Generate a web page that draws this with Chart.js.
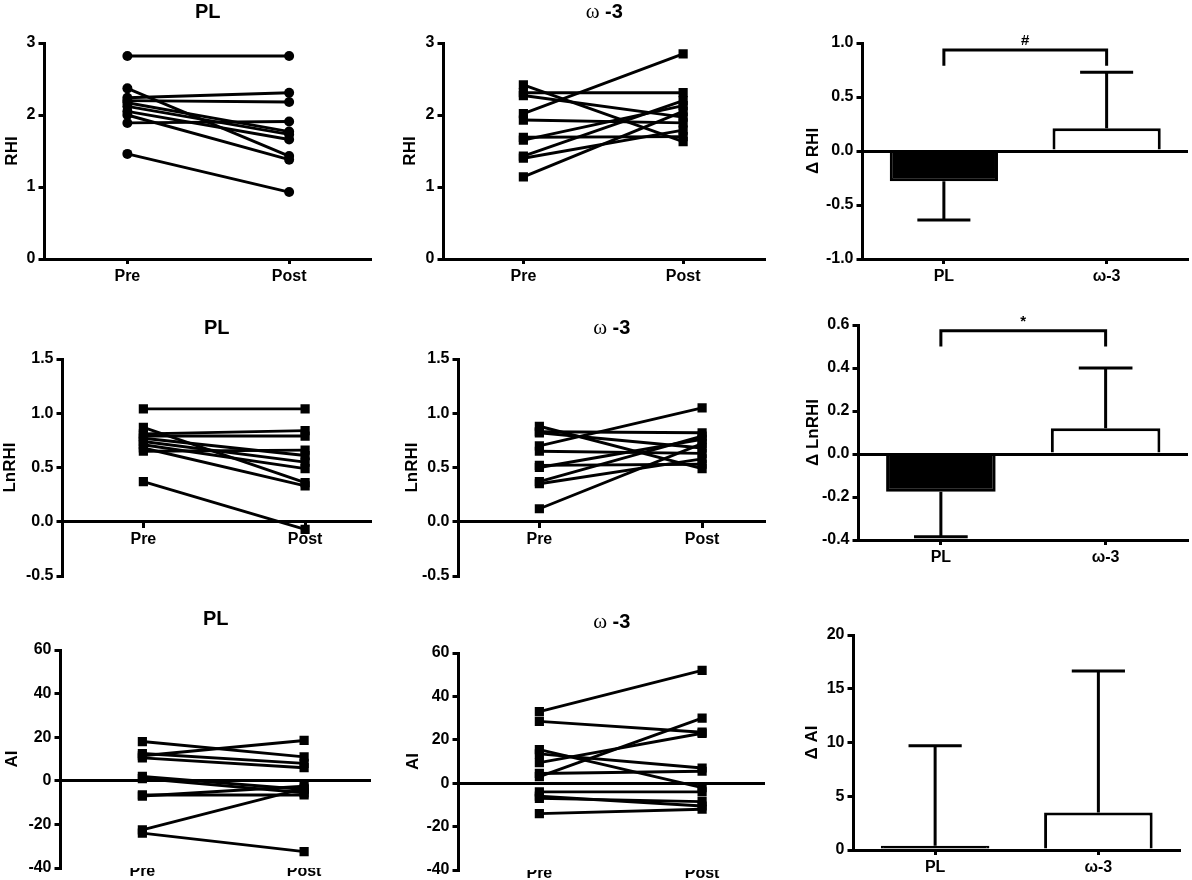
<!DOCTYPE html>
<html><head><meta charset="utf-8">
<script src="https://cdn.jsdelivr.net/npm/chart.js@4.4.1/dist/chart.umd.min.js"></script>
<style>
html,body{margin:0;padding:0;background:#fff;}
body{width:1192px;height:880px;overflow:hidden;position:relative;}
.p{position:absolute;}
</style></head><body>
<script>
// ---------- data ----------
const timepoints = ['Pre', 'Post'];
const groups = ['PL', 'ω-3'];

const rhiPLPre   = [2.82, 2.37, 2.24, 2.20, 2.17, 2.12, 2.05, 2.00, 1.89, 1.46];
const rhiPLPost  = [2.82, 1.43, 2.31, 2.18, 1.77, 1.73, 1.66, 1.38, 1.91, 0.93];
const rhiW3Pre   = [2.02, 2.31, 2.42, 2.27, 1.93, 1.69, 1.65, 1.43, 1.40, 1.14];
const rhiW3Post  = [2.85, 2.31, 1.63, 1.97, 1.89, 1.70, 2.13, 2.20, 1.79, 2.05];

const lnPLPre    = [1.04, 0.87, 0.81, 0.79, 0.77, 0.74, 0.71, 0.68, 0.65, 0.37];
const lnPLPost   = [1.04, 0.36, 0.84, 0.79, 0.61, 0.55, 0.49, 0.33, 0.66, -0.07];
const lnW3Pre    = [0.70, 0.83, 0.88, 0.82, 0.65, 0.52, 0.50, 0.37, 0.35, 0.12];
const lnW3Post   = [1.05, 0.82, 0.49, 0.68, 0.63, 0.53, 0.76, 0.79, 0.58, 0.72];

const aiPLPre    = [18, 11.5, 12.5, 10.5, 2, 1, -6.5, -7, -22.5, -24];
const aiPLPost   = [11, 18.5, 8, 6, -4, -5.5, -6.5, -2.5, -3.5, -32.5];
const aiW3Pre    = [33, 28.5, 15.5, 13.5, 9.5, 3, 4.5, -4, -7, -6, -14];
const aiW3Post   = [52, 23.5, -2, 7, 23, 30, 5.5, -4, -8.5, -10.5, -12];

const dRhiMean   = [-0.28, 0.21];
const dRhiErr    = [0.36, 0.52];
const dLnMean    = [-0.175, 0.12];
const dLnErr     = [0.21, 0.28];
const dAiMean    = [0.4, 3.5];
const dAiErr     = [9.3, 13.15];

const bracketRhi = [0.79, 0.935];
const bracketLn  = [0.50, 0.573];

const ticksRHI = [0, 3, 1];
const ticksLn  = [-0.5, 1.5, 0.5];
const ticksAI  = [-40, 60, 20];
const ticksDRhi = [-1.0, 1.0, 0.5];
const ticksDLn  = [-0.4, 0.6, 0.2];
const ticksDAi  = [0, 20, 5];

// ---------- style / layout ----------
Chart.defaults.font.family = '"Liberation Sans", Arial, sans-serif';
Chart.defaults.font.weight = 'bold';
Chart.defaults.color = '#000';
const SANS = '"Liberation Sans", Arial, sans-serif';
const SERIF = '"Liberation Serif", "Times New Roman", serif';
const TP = 46, PR = 4;

const titlePL = [{t: 'PL', f: 'bold 20px ' + SANS}];
const titleW3 = [{t: 'ω', f: '21px ' + SERIF}, {t: ' -3', f: 'bold 20px ' + SANS}];

const decor = {
  id: 'decor',
  afterDraw(chart, args, o) {
    const ctx = chart.ctx, ca = chart.chartArea;
    ctx.save();
    if (o.title) {
      let w = 0;
      o.title.forEach(p => { ctx.font = p.f; w += ctx.measureText(p.t).width; });
      let x = (ca.left + ca.right) / 2 - w / 2;
      const y = ca.top - 31;
      ctx.textBaseline = 'middle'; ctx.textAlign = 'left'; ctx.fillStyle = '#000';
      o.title.forEach(p => { ctx.font = p.f; ctx.fillText(p.t, x, y); x += ctx.measureText(p.t).width; });
    }
    const ys = chart.scales.y;
    const meta = chart.getDatasetMeta(0);
    ctx.strokeStyle = '#000'; ctx.lineWidth = 3; ctx.lineCap = 'butt';
    if (o.errs) {
      const vals = chart.data.datasets[0].data;
      o.errs.forEach((e, i) => {
        const el = meta.data[i];
        const m = vals[i];
        const end = m + (m >= 0 ? e : -e);
        const y0 = ys.getPixelForValue(m), y1 = ys.getPixelForValue(end);
        const half = el.width * 0.245;
        ctx.beginPath();
        ctx.moveTo(el.x, y0); ctx.lineTo(el.x, y1);
        ctx.moveTo(el.x - half, y1); ctx.lineTo(el.x + half, y1);
        ctx.stroke();
      });
    }
    if (o.bracket) {
      const x0 = meta.data[0].x, x1 = meta.data[1].x;
      const yl = ys.getPixelForValue(o.bracket[0]), yt = ys.getPixelForValue(o.bracket[1]);
      ctx.beginPath();
      ctx.moveTo(x0, yl); ctx.lineTo(x0, yt); ctx.lineTo(x1, yt); ctx.lineTo(x1, yl);
      ctx.stroke();
      ctx.fillStyle = '#000'; ctx.textAlign = 'center'; ctx.textBaseline = 'middle';
      ctx.font = 'bold 15px ' + SANS;
      ctx.fillText(o.sig, (x0 + x1) / 2, yt - 9);
    }
    ctx.restore();
  }
};

function makeBox(p, bottomPad) {
  const left = p.tx - 8.5;
  p._yw = p.L - left;
  const w = p._yw + (p.R - p.L) + PR;
  const h = TP + (p.B - p.T) + bottomPad;
  const div = document.createElement('div');
  div.className = 'p';
  div.style.left = left + 'px'; div.style.top = (p.T - TP) + 'px';
  div.style.width = w + 'px'; div.style.height = h + 'px';
  const cv = document.createElement('canvas');
  cv.width = w; cv.height = h;
  cv.style.width = w + 'px'; cv.style.height = h + 'px';
  div.appendChild(cv);
  document.body.appendChild(div);
  return cv;
}

function yScale(p, zeroLine) {
  return {
    type: 'linear', position: 'left', min: p.yt[0], max: p.yt[1],
    afterFit: s => { s.width = p._yw; },
    ticks: { stepSize: p.yt[2], callback: v => Number(v).toFixed(p.dec), font: {size: 16, weight: 'bold'}, color: '#000', padding: 3 },
    grid: {
      drawOnChartArea: zeroLine,
      color: c => (c.tick && c.tick.value === 0) ? '#000' : 'rgba(0,0,0,0)',
      lineWidth: 3, tickColor: '#000', tickLength: 6, tickWidth: 3, drawTicks: true
    },
    border: { display: true, color: '#000', width: 3 },
    title: { display: true, text: p.ylabel, font: {size: 17, weight: 'bold', lineHeight: 1}, color: '#000', padding: 0 }
  };
}

function pairChart(p) {
  const atZero = p.xAt === 'zero';
  const noLine = p.xAt === 'free';
  const cv = makeBox(p, atZero ? 14 : 34);
  const span = p.post - p.pre;
  const xmin = 1 - (p.pre - p.L) / span;
  const xmax = 2 + (p.R - p.post) / span;
  const datasets = p.preV.map((v, i) => ({
    data: [{x: 1, y: v}, {x: 2, y: p.postV[i]}],
    showLine: true, borderColor: '#000', borderWidth: 2.9,
    pointStyle: p.point, pointRadius: p.point === 'circle' ? 5 : 6.5,
    pointBackgroundColor: '#000', pointBorderColor: '#000', pointBorderWidth: 0
  }));
  new Chart(cv, {
    type: 'scatter',
    data: { datasets },
    plugins: [decor],
    options: {
      responsive: false, animation: false, devicePixelRatio: 1,
      layout: { padding: { left: 0, right: PR, top: TP, bottom: atZero ? 14 : 0 }, autoPadding: false },
      plugins: { legend: {display: false}, tooltip: {enabled: false}, decor: { title: p.title } },
      scales: {
        x: {
          type: 'linear', min: xmin, max: xmax,
          position: atZero ? {y: 0} : 'bottom',
          afterBuildTicks: s => { s.ticks = [{value: 1}, {value: 2}]; },
          afterFit: s => { s.height = atZero ? 0 : 34; },
          ticks: { callback: v => timepoints[v - 1], font: {size: 16, weight: 'bold'}, color: '#000', padding: noLine ? -6 : 3, autoSkip: false, maxRotation: 0 },
          grid: { display: !noLine, drawOnChartArea: false, drawTicks: !noLine, tickLength: 5, tickWidth: 3, tickColor: '#000', color: '#000' },
          border: { display: !noLine, color: '#000', width: 3 }
        },
        y: yScale(p, p.xAt === 'free')
      }
    }
  });
}

function barChart(p) {
  const cv = makeBox(p, 34);
  new Chart(cv, {
    type: 'bar',
    data: { labels: groups, datasets: [{
      data: p.means, backgroundColor: ['#000', '#fff'], borderColor: '#000', borderWidth: 3,
      barPercentage: 0.665, categoryPercentage: 1
    }]},
    plugins: [decor],
    options: {
      responsive: false, animation: false, devicePixelRatio: 1,
      layout: { padding: { left: 0, right: PR, top: TP, bottom: 0 }, autoPadding: false },
      plugins: { legend: {display: false}, tooltip: {enabled: false}, decor: { errs: p.errs, bracket: p.bracket, sig: p.sig } },
      scales: {
        x: {
          type: 'category', offset: true,
          afterFit: s => { s.height = 34; },
          ticks: { font: {size: 16, weight: 'bold'}, color: '#000', padding: 3, maxRotation: 0 },
          grid: { offset: false, drawOnChartArea: false, tickLength: 5, tickWidth: 3, tickColor: '#000', color: '#000' },
          border: { display: true, color: '#000', width: 3 }
        },
        y: yScale(p, p.yt[0] < 0)
      }
    }
  });
}

pairChart({L: 44, R: 371, T: 43, B: 259, tx: 12, pre: 127, post: 289, yt: ticksRHI, dec: 0, ylabel: 'RHI', title: titlePL, preV: rhiPLPre, postV: rhiPLPost, point: 'circle', xAt: 'bottom'});
pairChart({L: 443, R: 765, T: 43, B: 259, tx: 410, pre: 523, post: 683, yt: ticksRHI, dec: 0, ylabel: 'RHI', title: titleW3, preV: rhiW3Pre, postV: rhiW3Post, point: 'rect', xAt: 'bottom'});
pairChart({L: 62, R: 371, T: 359, B: 576, tx: 10, pre: 143, post: 305, yt: ticksLn, dec: 1, ylabel: 'LnRHI', title: titlePL, preV: lnPLPre, postV: lnPLPost, point: 'rect', xAt: 'zero'});
pairChart({L: 458, R: 765, T: 359, B: 576, tx: 412, pre: 539, post: 702, yt: ticksLn, dec: 1, ylabel: 'LnRHI', title: titleW3, preV: lnW3Pre, postV: lnW3Post, point: 'rect', xAt: 'zero'});
pairChart({L: 60, R: 371, T: 650, B: 868, tx: 12, pre: 142, post: 304, yt: ticksAI, dec: 0, ylabel: 'AI', title: titlePL, preV: aiPLPre, postV: aiPLPost, point: 'rect', xAt: 'free'});
pairChart({L: 458, R: 765, T: 653, B: 870, tx: 413, pre: 539, post: 702, yt: ticksAI, dec: 0, ylabel: 'AI', title: titleW3, preV: aiW3Pre, postV: aiW3Post, point: 'rect', xAt: 'free'});

barChart({L: 862, R: 1188, T: 43, B: 259, tx: 813, yt: ticksDRhi, dec: 1, ylabel: 'Δ RHI', means: dRhiMean, errs: dRhiErr, bracket: bracketRhi, sig: '#'});
barChart({L: 858, R: 1188, T: 325, B: 540, tx: 813, yt: ticksDLn, dec: 1, ylabel: 'Δ LnRHI', means: dLnMean, errs: dLnErr, bracket: bracketLn, sig: '*'});
barChart({L: 853, R: 1180, T: 635, B: 850, tx: 812, yt: ticksDAi, dec: 0, ylabel: 'Δ AI', means: dAiMean, errs: dAiErr});
</script>
</body></html>
